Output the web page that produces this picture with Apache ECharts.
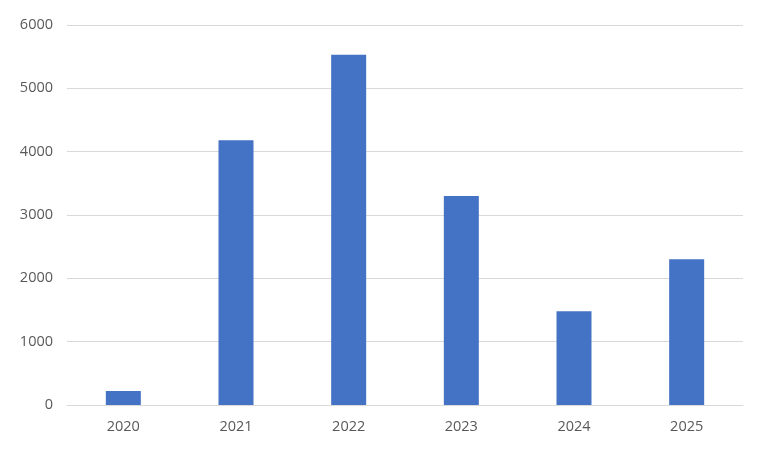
<!DOCTYPE html>
<html>
<head>
<meta charset="utf-8">
<script src="https://cdn.jsdelivr.net/npm/echarts@6/dist/echarts.min.js"></script>
<style>html,body{margin:0;padding:0;background:#fff}#c{width:758px;height:450px}</style>
</head>
<body>
<div id="c"></div>
<script>
const categories = ['2020', '2021', '2022', '2023', '2024', '2025'];
const values = [220, 4180, 5530, 3300, 1480, 2300];
const yTicks = [0, 1000, 2000, 3000, 4000, 5000, 6000];

const chart = echarts.init(document.getElementById('c'), null, {renderer: 'canvas'});
chart.setOption({
  animation: false,
  backgroundColor: '#ffffff',
  grid: {left: 67, right: 15, top: 25, bottom: 45, containLabel: false},
  xAxis: {
    type: 'category',
    data: categories,
    axisLine: {show: true, lineStyle: {color: '#d9d9d9', width: 1}},
    axisTick: {show: false},
    axisLabel: {color: '#595959', fontSize: 14.5, fontFamily: 'Open Sans', margin: 14}
  },
  yAxis: {
    type: 'value',
    min: yTicks[0],
    max: yTicks[yTicks.length - 1],
    interval: 1000,
    axisLine: {show: false},
    axisTick: {show: false},
    splitLine: {lineStyle: {color: '#d9d9d9', width: 1}},
    axisLabel: {color: '#595959', fontSize: 14.5, fontFamily: 'Open Sans', margin: 14,
      formatter: function (v) { return String(v); }}
  },
  series: [{
    type: 'bar',
    data: values,
    barWidth: 35,
    itemStyle: {color: '#4472C4'}
  }]
});
</script>
</body>
</html>
